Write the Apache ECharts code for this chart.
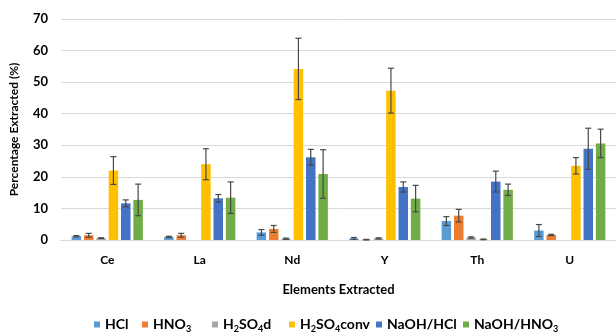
<!DOCTYPE html>
<html>
<head>
<meta charset="utf-8">
<script src="https://cdn.jsdelivr.net/npm/echarts@6/dist/echarts.min.js"></script>
<style>html,body{margin:0;padding:0;background:#fff}#c{width:616px;height:334px}</style>
</head>
<body>
<div id="c"></div>
<script>
const categories = ['Ce', 'La', 'Nd', 'Y', 'Th', 'U'];
const seriesNames = ['HCl', 'HNO3', 'H2SO4d', 'H2SO4conv', 'NaOH/HCl', 'NaOH/HNO3'];
const colors = ['#5B9BD5', '#ED7D31', '#A5A5A5', '#FFC000', '#4472C4', '#70AD47'];

const hclVals       = [1.2, 1.0, 2.4, 0.5, 6.0, 3.0];
const hclErr        = [0.2, 0.2, 0.9, 0.3, 1.4, 1.9];
const hno3Vals      = [1.5, 1.5, 3.5, 0.1, 7.7, 1.6];
const hno3Err       = [0.6, 0.6, 1.1, 0.1, 2.0, 0.2];
const h2so4dVals    = [0.6, 0.0, 0.4, 0.5, 0.8, 0.0];
const h2so4dErr     = [0.1, 0.0, 0.2, 0.2, 0.2, 0.0];
const h2so4convVals = [22.0, 24.0, 54.2, 47.3, 0.2, 23.5];
const h2so4convErr  = [4.4, 4.9, 9.7, 7.1, 0.1, 2.6];
const naohHclVals   = [11.6, 13.2, 26.2, 16.8, 18.5, 28.9];
const naohHclErr    = [1.1, 1.2, 2.5, 1.6, 3.3, 6.5];
const naohHno3Vals  = [12.7, 13.4, 20.9, 13.1, 15.9, 30.6];
const naohHno3Err   = [5.0, 5.0, 7.7, 4.2, 1.8, 4.5];

const yTicks = [0, 10, 20, 30, 40, 50, 60, 70];

const allVals = [hclVals, hno3Vals, h2so4dVals, h2so4convVals, naohHclVals, naohHno3Vals];
const allErrs = [hclErr, hno3Err, h2so4dErr, h2so4convErr, naohHclErr, naohHno3Err];

const BAR_W = 9.5;
const BAR_GAP = 0.3;
const FONT = 'Lato';

function richName(name) {
  return name.replace(/(\d)/g, '{s|$1}').replace(/(^|\})([^{}]+)(?=\{|$)/g, function (m, p, t) { return p + '{t|' + t + '}'; });
}

const series = [];
allVals.forEach(function (vals, k) {
  series.push({
    name: seriesNames[k],
    type: 'bar',
    data: vals,
    barWidth: BAR_W,
    barGap: (BAR_GAP * 100) + '%',
    itemStyle: { color: colors[k] },
    z: 2
  });
});
allVals.forEach(function (vals, k) {
  const errs = allErrs[k];
  series.push({
    name: 'err' + k,
    type: 'custom',
    z: 5,
    data: vals.map(function (v, i) { return [i, v, errs[i]]; }),
    renderItem: function (params, api) {
      const i = api.value(0), v = api.value(1), e = api.value(2);
      if (v === 0 && e === 0) return null;
      const off = (k - 2.5) * BAR_W * (1 + BAR_GAP);
      const hi = api.coord([i, v + e]);
      const lo = api.coord([i, Math.max(v - e, 0)]);
      const x = hi[0] + off;
      const cap = 3;
      const st = { stroke: '#484848', lineWidth: 1.2 };
      return {
        type: 'group',
        children: [
          { type: 'line', shape: { x1: x, y1: hi[1], x2: x, y2: lo[1] }, style: st },
          { type: 'line', shape: { x1: x - cap, y1: hi[1], x2: x + cap, y2: hi[1] }, style: st },
          { type: 'line', shape: { x1: x - cap, y1: lo[1], x2: x + cap, y2: lo[1] }, style: st }
        ]
      };
    }
  });
});

const legendLefts = [89, 137, 207, 284, 371, 458];
const legends = seriesNames.map(function (n, k) {
  return {
    data: [n],
    left: legendLefts[k],
    top: 312,
    itemWidth: 6,
    itemHeight: 6,
    icon: 'rect',
    itemGap: 0,
    formatter: function (name) { return richName(name); },
    textStyle: {
      rich: {
        t: { fontFamily: FONT, fontSize: 14, fontWeight: 'bold', color: '#000', lineHeight: 15, verticalAlign: 'top' },
        s: { fontFamily: FONT, fontSize: 9, fontWeight: 'bold', color: '#000', lineHeight: 10, padding: [8, 0, 0, 0], verticalAlign: 'top' }
      }
    }
  };
});

const chart = echarts.init(document.getElementById('c'));
chart.setOption({
  animation: false,
  backgroundColor: '#fff',
  grid: { left: 61, top: 19, width: 565, height: 221 },
  legend: legends,
  xAxis: {
    type: 'category',
    data: categories,
    name: 'Elements Extracted',
    nameLocation: 'middle',
    nameGap: 43,
    nameTextStyle: { fontFamily: FONT, fontSize: 13, fontWeight: 'bold', color: '#000' },
    axisLine: { lineStyle: { color: '#D9D9D9' } },
    axisTick: { show: false },
    axisLabel: { fontFamily: FONT, fontSize: 12, fontWeight: 'bold', color: '#000', margin: 14 }
  },
  yAxis: {
    type: 'value',
    min: yTicks[0],
    max: yTicks[yTicks.length - 1],
    interval: yTicks[1] - yTicks[0],
    name: 'Percentage Extracted (%)',
    nameLocation: 'middle',
    nameGap: 41,
    nameTextStyle: { fontFamily: FONT, fontSize: 12, fontWeight: 'bold', color: '#000' },
    axisLine: { show: false },
    axisTick: { show: false },
    axisLabel: { fontFamily: FONT, fontSize: 13, fontWeight: 'bold', color: '#000', margin: 13 },
    splitLine: { lineStyle: { color: '#D9D9D9' } }
  },
  series: series
});
</script>
</body>
</html>
